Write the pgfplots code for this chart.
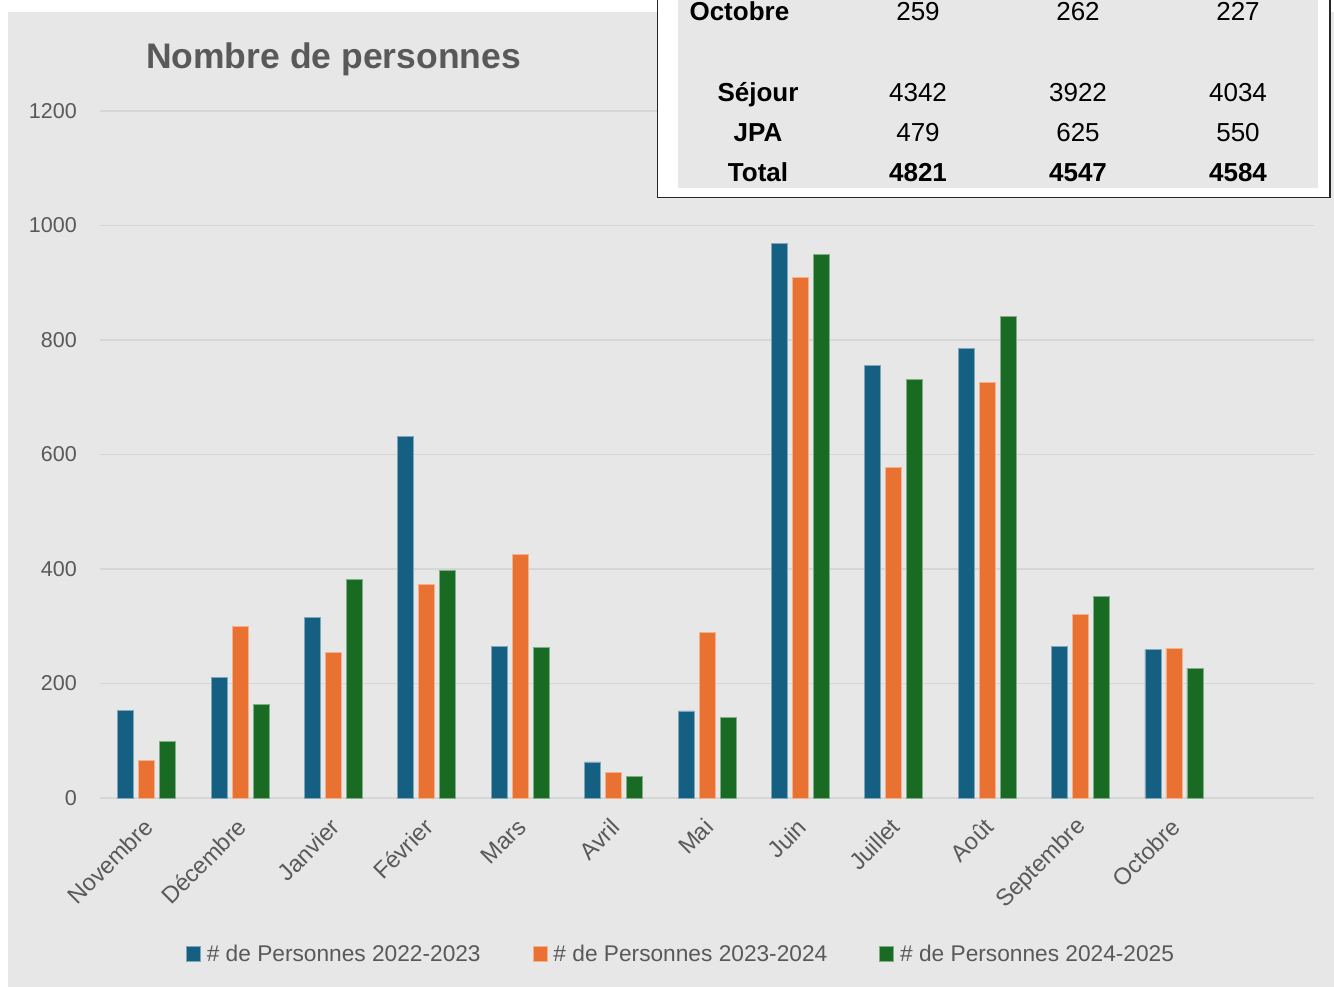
\documentclass[border=0pt]{standalone}
\usepackage{fontspec}
\setmainfont{Liberation Sans}
\usepackage{pgfplots}
\usepackage{pgfplotstable}
\pgfplotsset{compat=1.18}
\definecolor{c1}{HTML}{156082}
\definecolor{c2}{HTML}{E97132}
\definecolor{c3}{HTML}{196B24}
\definecolor{fond}{HTML}{E7E7E7}
\definecolor{grille}{HTML}{D6D6D6}
\definecolor{texte}{HTML}{595959}

% mois, 2022-2023, 2023-2024, 2024-2025
\pgfplotstableread{
x a b c
0 153 66 99
1 210 299 163
2 315 254 382
3 631 373 398
4 264 426 263
5 63 45 38
6 152 289 141
7 969 909 949
8 755 577 731
9 786 726 841
10 264 321 352
11 259 262 227
}\personnes

\begin{document}
\begin{tikzpicture}
\useasboundingbox (0pt,0pt) rectangle (1334pt,-987pt);
\fill[white] (0pt,0pt) rectangle (1334pt,-987pt);
\fill[fond] (8pt,-12pt) rectangle (1334pt,-987pt);

\begin{axis}[
    at={(100pt,-798pt)}, anchor=south west,
    scale only axis, width=1214pt, height=687pt,
    xmin=-0.5, xmax=12.5, ymin=0, ymax=1200,
    enlargelimits=false,
    axis line style={draw=none},
    major tick length=0pt,
    ytick={0,200,...,1200},
    ymajorgrids, grid style={grille, line width=1.6pt},
    xtick={0,...,11},
    xticklabels={Novembre,Décembre,Janvier,Février,Mars,Avril,Mai,Juin,Juillet,Août,Septembre,Octobre},
    ticklabel style={text=texte},
    /pgf/number format/assume math mode=true,
    /pgf/number format/1000 sep={},
    yticklabel style={font=\fontsize{21.5}{25}\selectfont, anchor=east, inner sep=0pt, xshift=-23pt},
    xticklabel style={font=\fontsize{23.5}{27}\selectfont, xshift=2pt, yshift=-25pt, rotate=45, anchor=east, inner sep=0pt},
    ybar, bar width=16pt,
    legend columns=3,
    legend style={draw=none, fill=none, at={(0.4786,-0.2271)}, anchor=center,
        font=\fontsize{22.7}{26}\selectfont, text=texte,
        /tikz/every odd column/.append style={column sep=4pt},
        /tikz/every even column/.append style={column sep=50pt}},
    legend image code/.code={\fill[#1] (0pt,-7.5pt) rectangle (14pt,7.5pt);},
]
\addplot[fill=c1, draw=c1!55!white, line width=0.8pt, bar shift=-21pt] table[x=x, y=a] {\personnes};
\addplot[fill=c2, draw=c2!55!white, line width=0.8pt, bar shift=0pt] table[x=x, y=b] {\personnes};
\addplot[fill=c3, draw=c3!55!white, line width=0.8pt, bar shift=21pt] table[x=x, y=c] {\personnes};
\legend{\# de Personnes 2022-2023, \# de Personnes 2023-2024, \# de Personnes 2024-2025}
\end{axis}

% titre
\node[anchor=base, text=texte, font=\fontsize{35.5}{42}\selectfont\bfseries] at (333.5pt,-69pt) {Nombre de personnes};

% tableau en haut a droite
\fill[white] (657pt,2pt) rectangle (1331pt,-198pt);
\fill[fond] (678pt,2pt) rectangle (1318pt,-188pt);
\draw[line width=1.5pt, black!85] (657.5pt,2pt) |- (1330pt,-197.5pt) -- (1330pt,2pt);
\begin{scope}[font=\fontsize{26}{30}\selectfont]
\node[anchor=base west, font=\fontsize{26}{30}\selectfont\bfseries] at (686pt,-21pt) {Octobre};
\node[anchor=base] at (918pt,-21pt) {259};
\node[anchor=base] at (1078pt,-21pt) {262};
\node[anchor=base] at (1238pt,-21pt) {227};
\node[anchor=base, font=\fontsize{26}{30}\selectfont\bfseries] at (758pt,-102pt) {Séjour};
\node[anchor=base] at (918pt,-102pt) {4342};
\node[anchor=base] at (1078pt,-102pt) {3922};
\node[anchor=base] at (1238pt,-102pt) {4034};
\node[anchor=base, font=\fontsize{26}{30}\selectfont\bfseries] at (758pt,-142pt) {JPA};
\node[anchor=base] at (918pt,-142pt) {479};
\node[anchor=base] at (1078pt,-142pt) {625};
\node[anchor=base] at (1238pt,-142pt) {550};
\node[anchor=base, font=\fontsize{26}{30}\selectfont\bfseries] at (758pt,-182pt) {Total};
\node[anchor=base, font=\fontsize{26}{30}\selectfont\bfseries] at (918pt,-182pt) {4821};
\node[anchor=base, font=\fontsize{26}{30}\selectfont\bfseries] at (1078pt,-182pt) {4547};
\node[anchor=base, font=\fontsize{26}{30}\selectfont\bfseries] at (1238pt,-182pt) {4584};
\end{scope}
\end{tikzpicture}
\end{document}
